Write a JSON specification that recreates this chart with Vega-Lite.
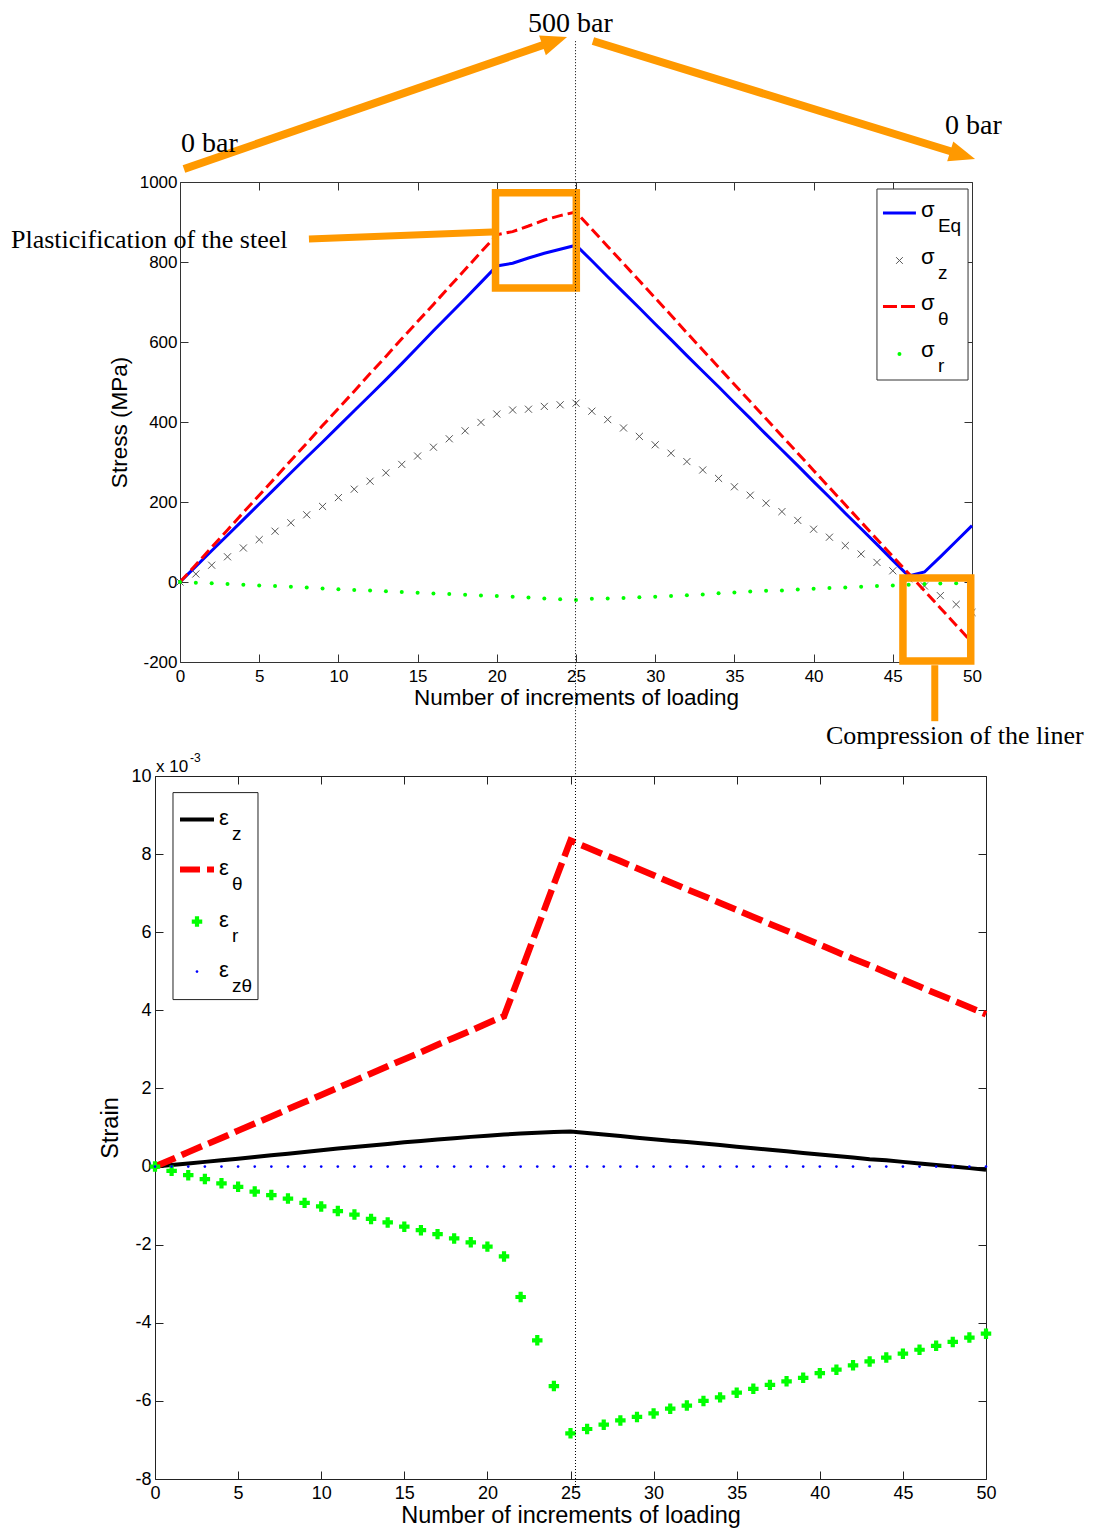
{
  "$schema": "https://vega.github.io/schema/vega-lite/v6.json",
  "padding": {"left": 10, "top": 10, "right": 2, "bottom": 2},
  "background": "white",
  "config": {
    "view": {"stroke": null},
    "axis": {"grid": false, "domainColor": "#333", "tickColor": "#333", "labelColor": "black", "titleColor": "black", "labelFont": "Liberation Sans", "titleFont": "Liberation Sans", "titleFontWeight": "normal", "domainWidth": 1, "tickWidth": 1, "labelFlush": false, "labelOverlap": false},
    "text": {"font": "Liberation Sans", "align": "left", "baseline": "alphabetic", "color": "black"}
  },
  "datasets": {
    "stress": [
      {"inc":0,"σEq":0,"σz":0,"σθ":0,"σr":0},
      {"inc":1,"σEq":39,"σz":20,"σθ":43,"σr":-2},
      {"inc":2,"σEq":78,"σz":42,"σθ":87,"σr":-3},
      {"inc":3,"σEq":117,"σz":63,"σθ":130,"σr":-5},
      {"inc":4,"σEq":156,"σz":85,"σθ":174,"σr":-7},
      {"inc":5,"σEq":195,"σz":106,"σθ":217,"σr":-9},
      {"inc":6,"σEq":234,"σz":127,"σθ":260,"σr":-10},
      {"inc":7,"σEq":273,"σz":148,"σθ":304,"σr":-12},
      {"inc":8,"σEq":312,"σz":168,"σθ":347,"σr":-14},
      {"inc":9,"σEq":350,"σz":189,"σθ":391,"σr":-16},
      {"inc":10,"σEq":389,"σz":211,"σθ":434,"σr":-18},
      {"inc":11,"σEq":428,"σz":232,"σθ":477,"σr":-20},
      {"inc":12,"σEq":467,"σz":252,"σθ":521,"σr":-21},
      {"inc":13,"σEq":506,"σz":273,"σθ":564,"σr":-23},
      {"inc":14,"σEq":546,"σz":294,"σθ":608,"σr":-25},
      {"inc":15,"σEq":587,"σz":315,"σθ":651,"σr":-27},
      {"inc":16,"σEq":628,"σz":337,"σθ":694,"σr":-29},
      {"inc":17,"σEq":668,"σz":358,"σθ":738,"σr":-30},
      {"inc":18,"σEq":708,"σz":378,"σθ":781,"σr":-32},
      {"inc":19,"σEq":749,"σz":399,"σθ":825,"σr":-34},
      {"inc":20,"σEq":790,"σz":420,"σθ":868,"σr":-35},
      {"inc":21,"σEq":797,"σz":430,"σθ":876,"σr":-37},
      {"inc":22,"σEq":810,"σz":432,"σθ":890,"σr":-39},
      {"inc":23,"σEq":822,"σz":439,"σθ":905,"σr":-41},
      {"inc":24,"σEq":832,"σz":443,"σθ":916,"σr":-43},
      {"inc":25,"σEq":842,"σz":447,"σθ":925,"σr":-45},
      {"inc":26,"σEq":803,"σz":427,"σθ":882,"σr":-42},
      {"inc":27,"σEq":763,"σz":406,"σθ":839,"σr":-41},
      {"inc":28,"σEq":724,"σz":385,"σθ":796,"σr":-40},
      {"inc":29,"σEq":685,"σz":364,"σθ":753,"σr":-38},
      {"inc":30,"σEq":645,"σz":343,"σθ":710,"σr":-37},
      {"inc":31,"σEq":606,"σz":322,"σθ":667,"σr":-35},
      {"inc":32,"σEq":566,"σz":301,"σθ":623,"σr":-33},
      {"inc":33,"σEq":527,"σz":280,"σθ":580,"σr":-31},
      {"inc":34,"σEq":488,"σz":259,"σθ":537,"σr":-28},
      {"inc":35,"σEq":448,"σz":238,"σθ":494,"σr":-26},
      {"inc":36,"σEq":409,"σz":217,"σθ":451,"σr":-24},
      {"inc":37,"σEq":369,"σz":197,"σθ":408,"σr":-22},
      {"inc":38,"σEq":330,"σz":176,"σθ":365,"σr":-21},
      {"inc":39,"σEq":291,"σz":154,"σθ":322,"σr":-19},
      {"inc":40,"σEq":251,"σz":132,"σθ":279,"σr":-17},
      {"inc":41,"σEq":212,"σz":112,"σθ":236,"σr":-15},
      {"inc":42,"σEq":172,"σz":91,"σθ":193,"σr":-14},
      {"inc":43,"σEq":133,"σz":70,"σθ":150,"σr":-12},
      {"inc":44,"σEq":94,"σz":49,"σθ":107,"σr":-10},
      {"inc":45,"σEq":54,"σz":28,"σθ":64,"σr":-9},
      {"inc":46,"σEq":15,"σz":8,"σθ":21,"σr":-7},
      {"inc":47,"σEq":25,"σz":-10,"σθ":-22,"σr":-5},
      {"inc":48,"σEq":63,"σz":-34,"σθ":-65,"σr":-4},
      {"inc":49,"σEq":102,"σz":-56,"σθ":-108,"σr":-3},
      {"inc":50,"σEq":141,"σz":-76,"σθ":-151,"σr":-2}
    ],
    "strain": [
      {"inc":0,"εz":0,"εθ":0,"εr":0,"εzθ":0},
      {"inc":1,"εz":0.00004,"εθ":0.00018,"εr":-0.00011,"εzθ":0},
      {"inc":2,"εz":0.00008,"εθ":0.00037,"εr":-0.00022,"εzθ":0},
      {"inc":3,"εz":0.00012,"εθ":0.00055,"εr":-0.00032,"εzθ":0},
      {"inc":4,"εz":0.00016,"εθ":0.00073,"εr":-0.00043,"εzθ":0},
      {"inc":5,"εz":0.0002,"εθ":0.00092,"εr":-0.00052,"εzθ":0},
      {"inc":6,"εz":0.000245,"εθ":0.0011,"εr":-0.00064,"εzθ":0},
      {"inc":7,"εz":0.00029,"εθ":0.00128,"εr":-0.00073,"εzθ":0},
      {"inc":8,"εz":0.00033,"εθ":0.00147,"εr":-0.00082,"εzθ":0},
      {"inc":9,"εz":0.000375,"εθ":0.00165,"εr":-0.00093,"εzθ":0},
      {"inc":10,"εz":0.00042,"εθ":0.00183,"εr":-0.00102,"εzθ":0},
      {"inc":11,"εz":0.00046,"εθ":0.00202,"εr":-0.00114,"εzθ":0},
      {"inc":12,"εz":0.0005,"εθ":0.0022,"εr":-0.00123,"εzθ":0},
      {"inc":13,"εz":0.00054,"εθ":0.00238,"εr":-0.00134,"εzθ":0},
      {"inc":14,"εz":0.00058,"εθ":0.00257,"εr":-0.00143,"εzθ":0},
      {"inc":15,"εz":0.00062,"εθ":0.00275,"εr":-0.00154,"εzθ":0},
      {"inc":16,"εz":0.000655,"εθ":0.00293,"εr":-0.00163,"εzθ":0},
      {"inc":17,"εz":0.00069,"εθ":0.00312,"εr":-0.00173,"εzθ":0},
      {"inc":18,"εz":0.000725,"εθ":0.0033,"εr":-0.00184,"εzθ":0},
      {"inc":19,"εz":0.00076,"εθ":0.00348,"εr":-0.00194,"εzθ":0},
      {"inc":20,"εz":0.00079,"εθ":0.00367,"εr":-0.00205,"εzθ":0},
      {"inc":21,"εz":0.00082,"εθ":0.00385,"εr":-0.0023,"εzθ":0},
      {"inc":22,"εz":0.000845,"εθ":0.00497,"εr":-0.00334,"εzθ":0},
      {"inc":23,"εz":0.000865,"εθ":0.0061,"εr":-0.00445,"εzθ":0},
      {"inc":24,"εz":0.000885,"εθ":0.00723,"εr":-0.00562,"εzθ":0},
      {"inc":25,"εz":0.0009,"εθ":0.00835,"εr":-0.00683,"εzθ":0},
      {"inc":26,"εz":0.00086,"εθ":0.00817,"εr":-0.00672,"εzθ":0},
      {"inc":27,"εz":0.00082,"εθ":0.00799,"εr":-0.00661,"εzθ":0},
      {"inc":28,"εz":0.00078,"εθ":0.00782,"εr":-0.0065,"εzθ":0},
      {"inc":29,"εz":0.00074,"εθ":0.00764,"εr":-0.00641,"εzθ":0},
      {"inc":30,"εz":0.0007,"εθ":0.00746,"εr":-0.00632,"εzθ":0},
      {"inc":31,"εz":0.00066,"εθ":0.00728,"εr":-0.0062,"εzθ":0},
      {"inc":32,"εz":0.00063,"εθ":0.0071,"εr":-0.00612,"εzθ":0},
      {"inc":33,"εz":0.00059,"εθ":0.00693,"εr":-0.006,"εzθ":0},
      {"inc":34,"εz":0.00055,"εθ":0.00675,"εr":-0.00591,"εzθ":0},
      {"inc":35,"εz":0.00051,"εθ":0.00657,"εr":-0.00579,"εzθ":0},
      {"inc":36,"εz":0.00047,"εθ":0.00639,"εr":-0.00569,"εzθ":0},
      {"inc":37,"εz":0.00043,"εθ":0.00621,"εr":-0.00559,"εzθ":0},
      {"inc":38,"εz":0.00039,"εθ":0.00604,"εr":-0.0055,"εzθ":0},
      {"inc":39,"εz":0.00035,"εθ":0.00586,"εr":-0.00541,"εzθ":0},
      {"inc":40,"εz":0.00031,"εθ":0.00568,"εr":-0.00529,"εzθ":0},
      {"inc":41,"εz":0.00027,"εθ":0.0055,"εr":-0.0052,"εzθ":0},
      {"inc":42,"εz":0.00023,"εθ":0.00532,"εr":-0.00509,"εzθ":0},
      {"inc":43,"εz":0.00019,"εθ":0.00515,"εr":-0.00499,"εzθ":0},
      {"inc":44,"εz":0.00016,"εθ":0.00497,"εr":-0.00489,"εzθ":0},
      {"inc":45,"εz":0.00012,"εθ":0.00479,"εr":-0.00479,"εzθ":0},
      {"inc":46,"εz":0.00008,"εθ":0.00461,"εr":-0.00469,"εzθ":0},
      {"inc":47,"εz":0.00004,"εθ":0.00443,"εr":-0.00459,"εzθ":0},
      {"inc":48,"εz":0,"εθ":0.00426,"εr":-0.00449,"εzθ":0},
      {"inc":49,"εz":-0.00004,"εθ":0.00408,"εr":-0.00438,"εzθ":0},
      {"inc":50,"εz":-0.00008,"εθ":0.0039,"εr":-0.00428,"εzθ":0}
    ]
  },
  "spacing": 114,
  "bounds": "flush",
  "resolve": {"scale": {"color": "independent"}},
  "vconcat": [
    {
      "width": 817,
      "height": 480,
      "data": {"name": "stress"},
      "resolve": {"axis": {"x": "independent", "y": "independent"}},
      "layer": [
        {
          "transform": [{"fold": ["σEq"], "as": ["series", "value"]}],
          "mark": {"type": "line", "strokeWidth": 3},
          "encoding": {
            "x": {"field": "inc", "type": "quantitative",
              "scale": {"domain": [0, 50], "range": [25, 817], "nice": false, "zero": false},
              "axis": {"orient": "bottom", "values": [0,5,10,15,20,25,30,35,40,45,50], "title": "Number of increments of loading", "tickSize": -8, "labelPadding": 14, "labelFontSize": 17, "titleFontSize": 22.5, "titlePadding": 2}},
            "y": {"field": "value", "type": "quantitative",
              "scale": {"domain": [-200, 1000], "nice": false, "zero": false},
              "axis": {"orient": "left", "offset": -25, "values": [-200,0,200,400,600,800,1000], "labelExpr": "'' + datum.value", "title": "Stress (MPa)", "tickSize": -8, "labelPadding": 11, "labelFontSize": 17, "titleFontSize": 22.5, "titlePadding": 8}},
            "color": {"field": "series", "type": "nominal",
              "scale": {"domain": ["σEq", "σz", "σθ", "σr"], "range": ["#0000ff", "#555555", "#ff0000", "#00ff00"]},
              "legend": null}
          }
        },
        {
          "transform": [{"fold": ["σz"], "as": ["series", "value"]}],
          "mark": {"type": "point", "shape": "M-1,-1L1,1M-1,1L1,-1", "filled": false, "size": 50, "strokeWidth": 1, "opacity": 1},
          "encoding": {
            "x": {"field": "inc", "type": "quantitative", "axis": null},
            "y": {"field": "value", "type": "quantitative", "axis": null},
            "color": {"field": "series", "type": "nominal", "legend": null}
          }
        },
        {
          "transform": [{"fold": ["σθ"], "as": ["series", "value"]}],
          "mark": {"type": "line", "strokeWidth": 3, "strokeDash": [11, 5]},
          "encoding": {
            "x": {"field": "inc", "type": "quantitative", "axis": null},
            "y": {"field": "value", "type": "quantitative", "axis": null},
            "color": {"field": "series", "type": "nominal", "legend": null}
          }
        },
        {
          "transform": [{"fold": ["σr"], "as": ["series", "value"]}],
          "mark": {"type": "point", "shape": "circle", "filled": true, "size": 16, "opacity": 1},
          "encoding": {
            "x": {"field": "inc", "type": "quantitative", "axis": null},
            "y": {"field": "value", "type": "quantitative", "axis": null},
            "color": {"field": "series", "type": "nominal", "legend": null}
          }
        },
        {
          "data": {"values": [{}]},
          "mark": {"type": "rect", "fill": "white", "stroke": "#333", "strokeWidth": 1},
          "encoding": {
            "x": {"datum": 44.0, "type": "quantitative", "axis": null},
            "x2": {"datum": 49.75},
            "y": {"datum": 982.5, "type": "quantitative", "axis": null},
            "y2": {"datum": 505}
          }
        },
        {
          "data": {"values": [{}]},
          "mark": {"type": "rule", "color": "#0000ff", "strokeWidth": 3},
          "encoding": {
            "x": {"datum": 44.38, "type": "quantitative", "axis": null},
            "x2": {"datum": 46.46},
            "y": {"datum": 922.5, "type": "quantitative", "axis": null}
          }
        },
        {
          "data": {"values": [{}]},
          "mark": {"type": "point", "shape": "M-1,-1L1,1M-1,1L1,-1", "filled": false, "size": 45, "strokeWidth": 1, "color": "#555555", "opacity": 1},
          "encoding": {
            "x": {"datum": 45.42, "type": "quantitative", "axis": null},
            "y": {"datum": 803.75, "type": "quantitative", "axis": null}
          }
        },
        {
          "data": {"values": [{}]},
          "mark": {"type": "rule", "color": "#ff0000", "strokeWidth": 3, "strokeDash": [14, 4]},
          "encoding": {
            "x": {"datum": 44.38, "type": "quantitative", "axis": null},
            "x2": {"datum": 46.46},
            "y": {"datum": 688.75, "type": "quantitative", "axis": null}
          }
        },
        {
          "data": {"values": [{}]},
          "mark": {"type": "point", "shape": "circle", "filled": true, "size": 16, "color": "#00ff00", "opacity": 1},
          "encoding": {
            "x": {"datum": 45.42, "type": "quantitative", "axis": null},
            "y": {"datum": 570, "type": "quantitative", "axis": null}
          }
        },
        {
          "data": {"values": [{}]},
          "mark": {"type": "text", "text": "σ", "fontSize": 22},
          "encoding": {"x": {"datum": 46.78, "type": "quantitative", "axis": null}, "y": {"datum": 912.5, "type": "quantitative", "axis": null}}
        },
        {
          "data": {"values": [{}]},
          "mark": {"type": "text", "text": "Eq", "fontSize": 19},
          "encoding": {"x": {"datum": 47.85, "type": "quantitative", "axis": null}, "y": {"datum": 875, "type": "quantitative", "axis": null}}
        },
        {
          "data": {"values": [{}]},
          "mark": {"type": "text", "text": "σ", "fontSize": 22},
          "encoding": {"x": {"datum": 46.78, "type": "quantitative", "axis": null}, "y": {"datum": 795, "type": "quantitative", "axis": null}}
        },
        {
          "data": {"values": [{}]},
          "mark": {"type": "text", "text": "z", "fontSize": 19},
          "encoding": {"x": {"datum": 47.85, "type": "quantitative", "axis": null}, "y": {"datum": 757.5, "type": "quantitative", "axis": null}}
        },
        {
          "data": {"values": [{}]},
          "mark": {"type": "text", "text": "σ", "fontSize": 22},
          "encoding": {"x": {"datum": 46.78, "type": "quantitative", "axis": null}, "y": {"datum": 680, "type": "quantitative", "axis": null}}
        },
        {
          "data": {"values": [{}]},
          "mark": {"type": "text", "text": "θ", "fontSize": 19},
          "encoding": {"x": {"datum": 47.85, "type": "quantitative", "axis": null}, "y": {"datum": 642.5, "type": "quantitative", "axis": null}}
        },
        {
          "data": {"values": [{}]},
          "mark": {"type": "text", "text": "σ", "fontSize": 22},
          "encoding": {"x": {"datum": 46.78, "type": "quantitative", "axis": null}, "y": {"datum": 562.5, "type": "quantitative", "axis": null}}
        },
        {
          "data": {"values": [{}]},
          "mark": {"type": "text", "text": "r", "fontSize": 19},
          "encoding": {"x": {"datum": 47.85, "type": "quantitative", "axis": null}, "y": {"datum": 525, "type": "quantitative", "axis": null}}
        },
        {
          "data": {"values": [{}]},
          "mark": {"type": "rect", "filled": false, "stroke": "#ff9900", "strokeWidth": 7.5, "opacity": 1},
          "encoding": {
            "x": {"datum": 19.92, "type": "quantitative", "axis": null},
            "x2": {"datum": 25.02},
            "y": {"datum": 973, "type": "quantitative", "axis": null},
            "y2": {"datum": 735}
          }
        },
        {
          "data": {"values": [{}]},
          "mark": {"type": "rect", "filled": false, "stroke": "#ff9900", "strokeWidth": 7.5, "opacity": 1},
          "encoding": {
            "x": {"datum": 45.64, "type": "quantitative", "axis": null},
            "x2": {"datum": 49.92},
            "y": {"datum": 10, "type": "quantitative", "axis": null},
            "y2": {"datum": -197.5}
          }
        },
        {
          "data": {"values": [{}]},
          "mark": {"type": "rule", "stroke": "#ff9900", "strokeWidth": 7, "strokeCap": "butt"},
          "encoding": {
            "x": {"datum": 8.14, "type": "quantitative", "axis": null},
            "x2": {"datum": 19.7},
            "y": {"datum": 857.5, "type": "quantitative", "axis": null},
            "y2": {"datum": 875}
          }
        },
        {
          "data": {"values": [{}]},
          "mark": {"type": "rule", "stroke": "#ff9900", "strokeWidth": 7, "strokeCap": "butt"},
          "encoding": {
            "x": {"datum": 47.65, "type": "quantitative", "axis": null},
            "y": {"datum": -208, "type": "quantitative", "axis": null},
            "y2": {"datum": -348}
          }
        },
        {
          "data": {"values": [{}]},
          "mark": {"type": "rule", "stroke": "#ff9900", "strokeWidth": 8, "strokeCap": "butt"},
          "encoding": {
            "x": {"datum": 0.25, "type": "quantitative", "axis": null},
            "x2": {"datum": 23.11},
            "y": {"datum": 1032.5, "type": "quantitative", "axis": null},
            "y2": {"datum": 1345}
          }
        },
        {
          "data": {"values": [{}]},
          "mark": {"type": "rule", "stroke": "#ff9900", "strokeWidth": 8, "strokeCap": "butt"},
          "encoding": {
            "x": {"datum": 26.07, "type": "quantitative", "axis": null},
            "x2": {"datum": 48.8},
            "y": {"datum": 1352.5, "type": "quantitative", "axis": null},
            "y2": {"datum": 1075}
          }
        },
        {
          "data": {"values": [{}]},
          "mark": {"type": "point", "shape": "M1,0L-1,-0.8L-1,0.8Z", "filled": true, "color": "#ff9900", "opacity": 1, "size": 676, "angle": 341},
          "encoding": {
            "x": {"datum": 23.66, "type": "quantitative", "axis": null},
            "y": {"datum": 1352, "type": "quantitative", "axis": null}
          }
        },
        {
          "data": {"values": [{}]},
          "mark": {"type": "point", "shape": "M1,0L-1,-0.8L-1,0.8Z", "filled": true, "color": "#ff9900", "opacity": 1, "size": 676, "angle": 17},
          "encoding": {
            "x": {"datum": 49.41, "type": "quantitative", "axis": null},
            "y": {"datum": 1067, "type": "quantitative", "axis": null}
          }
        },
        {
          "data": {"values": [{}]},
          "mark": {"type": "text", "text": "0 bar", "font": "Liberation Serif", "fontSize": 28},
          "encoding": {
            "x": {"datum": 0.06, "type": "quantitative", "axis": null},
            "y": {"datum": 1075, "type": "quantitative", "axis": null}
          }
        },
        {
          "data": {"values": [{}]},
          "mark": {"type": "text", "text": "500 bar", "font": "Liberation Serif", "fontSize": 28},
          "encoding": {
            "x": {"datum": 21.97, "type": "quantitative", "axis": null},
            "y": {"datum": 1375, "type": "quantitative", "axis": null}
          }
        },
        {
          "data": {"values": [{}]},
          "mark": {"type": "text", "text": "0 bar", "font": "Liberation Serif", "fontSize": 28},
          "encoding": {
            "x": {"datum": 48.3, "type": "quantitative", "axis": null},
            "y": {"datum": 1120, "type": "quantitative", "axis": null}
          }
        },
        {
          "data": {"values": [{}]},
          "mark": {"type": "text", "text": "Plasticification of the steel", "font": "Liberation Serif", "fontSize": 26},
          "encoding": {
            "x": {"datum": -10.67, "type": "quantitative", "axis": null},
            "y": {"datum": 835, "type": "quantitative", "axis": null}
          }
        },
        {
          "data": {"values": [{}]},
          "mark": {"type": "text", "text": "Compression of the liner", "font": "Liberation Serif", "fontSize": 26},
          "encoding": {
            "x": {"datum": 40.78, "type": "quantitative", "axis": null},
            "y": {"datum": -405, "type": "quantitative", "axis": null}
          }
        },
        {
          "data": {"values": [{}]},
          "mark": {"type": "rule", "color": "black", "strokeWidth": 1, "strokeDash": [1, 2]},
          "encoding": {
            "x": {"datum": 24.97, "type": "quantitative",
              "axis": {"orient": "top", "values": [0,5,10,15,20,25,30,35,40,45,50], "labels": false, "title": null, "tickSize": -8}},
            "y": {"datum": 1352, "type": "quantitative",
              "axis": {"orient": "right", "values": [-200,0,200,400,600,800,1000], "labels": false, "title": null, "tickSize": -8}},
            "y2": {"datum": -485}
          }
        }
      ]
    },
    {
      "width": 831,
      "height": 703,
      "data": {"name": "strain"},
      "resolve": {"axis": {"x": "independent", "y": "independent"}},
      "layer": [
        {
          "transform": [{"fold": ["εz"], "as": ["series", "value"]}],
          "mark": {"type": "line", "strokeWidth": 4},
          "encoding": {
            "x": {"field": "inc", "type": "quantitative",
              "scale": {"domain": [0, 50], "nice": false, "zero": false},
              "axis": {"orient": "bottom", "values": [0,5,10,15,20,25,30,35,40,45,50], "title": "Number of increments of loading", "tickSize": -8, "labelPadding": 13, "labelFontSize": 18, "titleFontSize": 23.5, "titlePadding": 1, "domainColor": "#222", "tickColor": "#222"}},
            "y": {"field": "value", "type": "quantitative",
              "scale": {"domain": [-0.008, 0.01], "nice": false, "zero": false},
              "axis": {"orient": "left", "values": [-0.008,-0.006,-0.004,-0.002,0,0.002,0.004,0.006,0.008,0.01], "labelExpr": "'' + round(datum.value * 1000)", "title": "Strain", "tickSize": -8, "labelPadding": 12, "labelFontSize": 18, "titleFontSize": 23.5, "titlePadding": 8, "domainColor": "#222", "tickColor": "#222"}},
            "color": {"field": "series", "type": "nominal",
              "scale": {"domain": ["εz", "εθ", "εr", "εzθ"], "range": ["#000000", "#ff0000", "#00ff00", "#0000ff"]},
              "legend": null}
          }
        },
        {
          "transform": [{"fold": ["εθ"], "as": ["series", "value"]}],
          "mark": {"type": "line", "strokeWidth": 6.5, "strokeDash": [22, 7]},
          "encoding": {
            "x": {"field": "inc", "type": "quantitative", "axis": null},
            "y": {"field": "value", "type": "quantitative", "axis": null},
            "color": {"field": "series", "type": "nominal", "legend": null}
          }
        },
        {
          "transform": [{"fold": ["εr"], "as": ["series", "value"]}],
          "mark": {"type": "point", "shape": "cross", "filled": true, "size": 110, "opacity": 1},
          "encoding": {
            "x": {"field": "inc", "type": "quantitative", "axis": null},
            "y": {"field": "value", "type": "quantitative", "axis": null},
            "color": {"field": "series", "type": "nominal", "legend": null}
          }
        },
        {
          "transform": [{"fold": ["εzθ"], "as": ["series", "value"]}],
          "mark": {"type": "point", "shape": "circle", "filled": true, "size": 7, "opacity": 1},
          "encoding": {
            "x": {"field": "inc", "type": "quantitative", "axis": null},
            "y": {"field": "value", "type": "quantitative", "axis": null},
            "color": {"field": "series", "type": "nominal", "legend": null}
          }
        },
        {
          "data": {"values": [{}]},
          "mark": {"type": "rect", "fill": "white", "stroke": "#222", "strokeWidth": 1},
          "encoding": {
            "x": {"datum": 1.083, "type": "quantitative", "axis": null},
            "x2": {"datum": 6.197},
            "y": {"datum": 0.009575, "type": "quantitative", "axis": null},
            "y2": {"datum": 0.004275}
          }
        },
        {
          "data": {"values": [{}]},
          "mark": {"type": "rule", "color": "#000000", "strokeWidth": 4},
          "encoding": {
            "x": {"datum": 1.504, "type": "quantitative", "axis": null},
            "x2": {"datum": 3.55},
            "y": {"datum": 0.008884, "type": "quantitative", "axis": null}
          }
        },
        {
          "data": {"values": [{}]},
          "mark": {"type": "rule", "color": "#ff0000", "strokeWidth": 6, "strokeDash": [20, 7]},
          "encoding": {
            "x": {"datum": 1.504, "type": "quantitative", "axis": null},
            "x2": {"datum": 3.55},
            "y": {"datum": 0.007604, "type": "quantitative", "axis": null}
          }
        },
        {
          "data": {"values": [{}]},
          "mark": {"type": "point", "shape": "cross", "filled": true, "size": 110, "color": "#00ff00", "opacity": 1},
          "encoding": {
            "x": {"datum": 2.527, "type": "quantitative", "axis": null},
            "y": {"datum": 0.006272, "type": "quantitative", "axis": null}
          }
        },
        {
          "data": {"values": [{}]},
          "mark": {"type": "point", "shape": "circle", "filled": true, "size": 7, "color": "#0000ff", "opacity": 1},
          "encoding": {
            "x": {"datum": 2.527, "type": "quantitative", "axis": null},
            "y": {"datum": 0.004992, "type": "quantitative", "axis": null}
          }
        },
        {
          "data": {"values": [{}]},
          "mark": {"type": "text", "text": "ε", "fontSize": 22},
          "encoding": {"x": {"datum": 3.851, "type": "quantitative", "axis": null}, "y": {"datum": 0.008756, "type": "quantitative", "axis": null}}
        },
        {
          "data": {"values": [{}]},
          "mark": {"type": "text", "text": "z", "fontSize": 19},
          "encoding": {"x": {"datum": 4.633, "type": "quantitative", "axis": null}, "y": {"datum": 0.008372, "type": "quantitative", "axis": null}}
        },
        {
          "data": {"values": [{}]},
          "mark": {"type": "text", "text": "ε", "fontSize": 22},
          "encoding": {"x": {"datum": 3.851, "type": "quantitative", "axis": null}, "y": {"datum": 0.007476, "type": "quantitative", "axis": null}}
        },
        {
          "data": {"values": [{}]},
          "mark": {"type": "text", "text": "θ", "fontSize": 19},
          "encoding": {"x": {"datum": 4.633, "type": "quantitative", "axis": null}, "y": {"datum": 0.007092, "type": "quantitative", "axis": null}}
        },
        {
          "data": {"values": [{}]},
          "mark": {"type": "text", "text": "ε", "fontSize": 22},
          "encoding": {"x": {"datum": 3.851, "type": "quantitative", "axis": null}, "y": {"datum": 0.006144, "type": "quantitative", "axis": null}}
        },
        {
          "data": {"values": [{}]},
          "mark": {"type": "text", "text": "r", "fontSize": 19},
          "encoding": {"x": {"datum": 4.633, "type": "quantitative", "axis": null}, "y": {"datum": 0.00576, "type": "quantitative", "axis": null}}
        },
        {
          "data": {"values": [{}]},
          "mark": {"type": "text", "text": "ε", "fontSize": 22},
          "encoding": {"x": {"datum": 3.851, "type": "quantitative", "axis": null}, "y": {"datum": 0.004864, "type": "quantitative", "axis": null}}
        },
        {
          "data": {"values": [{}]},
          "mark": {"type": "text", "text": "zθ", "fontSize": 19},
          "encoding": {"x": {"datum": 4.633, "type": "quantitative", "axis": null}, "y": {"datum": 0.00448, "type": "quantitative", "axis": null}}
        },
        {
          "data": {"values": [{}]},
          "mark": {"type": "text", "text": "x 10", "fontSize": 17},
          "encoding": {
            "x": {"datum": 0.06, "type": "quantitative", "axis": null},
            "y": {"datum": 0.01011, "type": "quantitative", "axis": null}
          }
        },
        {
          "data": {"values": [{}]},
          "mark": {"type": "text", "text": "-3", "fontSize": 12},
          "encoding": {
            "x": {"datum": 2.1, "type": "quantitative", "axis": null},
            "y": {"datum": 0.01037, "type": "quantitative", "axis": null}
          }
        },
        {
          "data": {"values": [{}]},
          "mark": {"type": "rule", "color": "black", "strokeWidth": 1, "strokeDash": [1, 2]},
          "encoding": {
            "x": {"datum": 25.3, "type": "quantitative",
              "axis": {"orient": "top", "values": [0,5,10,15,20,25,30,35,40,45,50], "labels": false, "title": null, "tickSize": -8, "domainColor": "#222", "tickColor": "#222"}},
            "y": {"datum": 0.01, "type": "quantitative",
              "axis": {"orient": "right", "values": [-0.008,-0.006,-0.004,-0.002,0,0.002,0.004,0.006,0.008,0.01], "labels": false, "title": null, "tickSize": -8, "domainColor": "#222", "tickColor": "#222"}},
            "y2": {"datum": -0.00827}
          }
        }
      ]
    }
  ]
}
